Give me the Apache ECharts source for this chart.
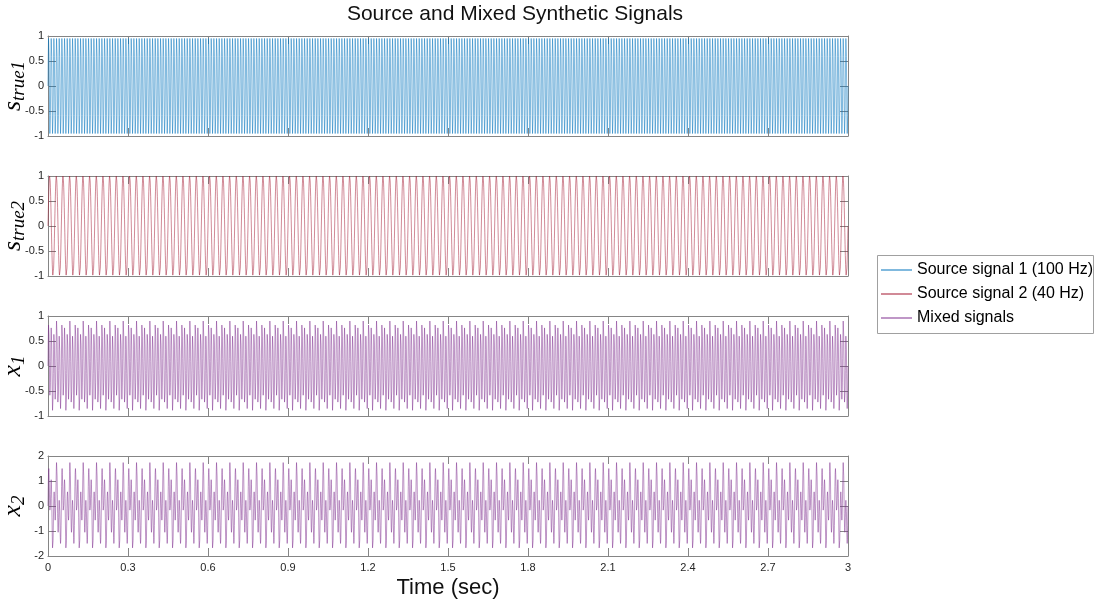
<!DOCTYPE html>
<html>
<head>
<meta charset="utf-8">
<script src="https://cdn.jsdelivr.net/npm/echarts@6/dist/echarts.min.js"></script>
<style>
  html, body { margin: 0; padding: 0; background: #fff; }
  #chart { width: 1094px; height: 602px; }
</style>
</head>
<body>
<div id="chart"></div>
<script>
// Sampling: 1 kHz over 3 seconds
const sampleRate = 1000;
const durationSec = 3;

// One period of each signal, sampled at 1 kHz
// Source 1, 100 Hz (10 samples per period)
const source1Period = [0, 0.5878, 0.9511, 0.9511, 0.5878, 0, -0.5878, -0.9511, -0.9511, -0.5878];
// Source 2, 40 Hz (25 samples per period)
const source2Period = [
  0, 0.2487, 0.4818, 0.6845, 0.8443, 0.9511, 0.9980, 0.9823, 0.9048, 0.7705,
  0.5878, 0.3681, 0.1253, -0.1253, -0.3681, -0.5878, -0.7705, -0.9048, -0.9823, -0.9980,
  -0.9511, -0.8443, -0.6845, -0.4818, -0.2487
];
// Mixed channel 1 (50 samples per common period)
const mixed1Period = [
  0, 0.4983, 0.8190, 0.8514, 0.5936, 0.1522, -0.2988, -0.5847, -0.5971, -0.3352,
  0.0940, 0.5174, 0.7619, 0.7219, 0.3996, -0.0940, -0.5818, -0.8867, -0.8991, -0.6182,
  -0.1522, 0.3234, 0.6324, 0.6648, 0.4187, 0, -0.4187, -0.6648, -0.6324, -0.3234,
  0.1522, 0.6182, 0.8991, 0.8867, 0.5818, 0.0940, -0.3996, -0.7219, -0.7619, -0.5174,
  -0.0940, 0.3352, 0.5971, 0.5847, 0.2988, -0.1522, -0.5936, -0.8514, -0.8190, -0.4983
];
// Mixed channel 2 (50 samples per common period)
const mixed2Period = [
  0, 0.7868, 1.3365, 1.4987, 1.2632, 0.7609, 0.2106, -0.1653, -0.2273, 0.0286,
  0.4702, 0.8823, 1.0513, 0.8509, 0.2933, -0.4702, -1.2042, -1.6749, -1.7369, -1.3862,
  -0.7609, -0.0876, 0.4035, 0.5657, 0.3888, 0, -0.3888, -0.5657, -0.4035, 0.0876,
  0.7609, 1.3862, 1.7369, 1.6749, 1.2042, 0.4702, -0.2933, -0.8509, -1.0513, -0.8823,
  -0.4702, 0.0286, 0.2273, 0.1653, -0.2106, -0.7609, -1.2632, -1.4987, -1.3365, -0.7868
];

const seriesNames = ['Source signal 1 (100 Hz)', 'Source signal 2 (40 Hz)', 'Mixed signals', 'Mixed signals'];
const panelLabels = [['s', 'true1'], ['s', 'true2'], ['x', '1'], ['x', '2']];
const timeTicks = [0, 0.3, 0.6, 0.9, 1.2, 1.5, 1.8, 2.1, 2.4, 2.7, 3];
const unitTicks = [-1, -0.5, 0, 0.5, 1];
const mixTicks = [-2, -1, 0, 1, 2];

// Repeat a sampled period along the time axis
function repeatPeriod(period) {
  const pts = [];
  const n = sampleRate * durationSec;
  for (let k = 0; k <= n; k++) pts.push([k / sampleRate, period[k % period.length]]);
  return pts;
}

const signals = [source1Period, source2Period, mixed1Period, mixed2Period].map(repeatPeriod);
const yTickSets = [unitTicks, unitTicks, unitTicks, mixTicks];
const colors = ['#0072BD', '#A2142F', '#7E2F8E', '#7E2F8E'];

const FONT = "'Liberation Sans', Arial, Helvetica, sans-serif";
const MATH = "'Liberation Serif', 'Times New Roman', serif";
const BOX = '#858585';
const TXT = '#262626';

const PLOT_LEFT = 48, PLOT_TOP = 36, PLOT_W = 800, PLOT_H = 100, PANEL_STEP = 140;

const grid = [], xAxis = [], yAxis = [], series = [], graphic = [];
for (let i = 0; i < 4; i++) {
  grid.push({ left: PLOT_LEFT, top: PLOT_TOP + PANEL_STEP * i, width: PLOT_W, height: PLOT_H, containLabel: false, outerBoundsMode: 'none' });
  const last = i === 3;
  const yt = yTickSets[i];
  // bottom x axis
  xAxis.push({
    type: 'value', gridIndex: i, position: 'bottom', min: 0, max: 3,
    axisLine: { show: true, onZero: false, lineStyle: { color: BOX, width: 1 } },
    axisTick: { show: true, inside: true, length: 8, customValues: timeTicks, lineStyle: { color: BOX } },
    axisLabel: {
      show: last, customValues: timeTicks, margin: 6, color: TXT, fontSize: 11, fontFamily: FONT,
      formatter: v => String(+v.toFixed(1))
    },
    splitLine: { show: false },
    name: last ? 'Time (sec)' : '', nameLocation: 'middle', nameGap: 21,
    nameTextStyle: { fontSize: 22, color: '#111', fontFamily: FONT }
  });
  // top x axis (box edge with ticks)
  xAxis.push({
    type: 'value', gridIndex: i, position: 'top', min: 0, max: 3,
    axisLine: { show: true, onZero: false, lineStyle: { color: BOX, width: 1 } },
    axisTick: { show: true, inside: true, length: 8, customValues: timeTicks, lineStyle: { color: BOX } },
    axisLabel: { show: false }, splitLine: { show: false }
  });
  // left y axis
  yAxis.push({
    type: 'value', gridIndex: i, position: 'left', min: yt[0], max: yt[yt.length - 1],
    axisLine: { show: true, onZero: false, lineStyle: { color: BOX, width: 1 } },
    axisTick: { show: true, inside: true, length: 8, customValues: yt, lineStyle: { color: BOX } },
    axisLabel: { customValues: yt, margin: 4, color: TXT, fontSize: 11, fontFamily: FONT },
    splitLine: { show: false }
  });
  // right y axis (box edge with ticks)
  yAxis.push({
    type: 'value', gridIndex: i, position: 'right', min: yt[0], max: yt[yt.length - 1],
    axisLine: { show: true, onZero: false, lineStyle: { color: BOX, width: 1 } },
    axisTick: { show: true, inside: true, length: 8, customValues: yt, lineStyle: { color: BOX } },
    axisLabel: { show: false }, splitLine: { show: false }
  });
  series.push({
    type: 'line', name: seriesNames[i], xAxisIndex: 2 * i, yAxisIndex: 2 * i,
    data: signals[i], showSymbol: false, symbol: 'none',
    lineStyle: { width: 0.5, color: colors[i] }, itemStyle: { color: colors[i] },
    emphasis: { disabled: true }, animation: false
  });
  // rotated math-style panel label with subscript
  graphic.push({
    type: 'text', silent: true,
    x: 13, y: PLOT_TOP + PANEL_STEP * i + PLOT_H / 2,
    rotation: Math.PI / 2,
    style: {
      text: '{m|' + panelLabels[i][0] + '}{b|' + panelLabels[i][1] + '}',
      align: 'center', verticalAlign: 'middle',
      rich: {
        m: { fontFamily: MATH, fontStyle: 'italic', fontSize: 26, fill: '#000', lineHeight: 30, verticalAlign: 'middle' },
        b: { fontFamily: MATH, fontStyle: 'italic', fontSize: 19, fill: '#000', lineHeight: 14, verticalAlign: 'bottom' }
      }
    }
  });
}

graphic.push({
  type: 'rect', silent: true,
  shape: { x: 877.5, y: 255.5, width: 216, height: 78 },
  style: { fill: 'none', stroke: '#a0a0a0', lineWidth: 1 }
});

const chart = echarts.init(document.getElementById('chart'), null, { renderer: 'canvas' });
chart.setOption({
  backgroundColor: '#fff',
  animation: false,
  title: {
    text: 'Source and Mixed Synthetic Signals', left: 510, top: -1, textAlign: 'center',
    textStyle: { fontSize: 21, fontWeight: 'normal', color: '#111', fontFamily: FONT }
  },
  legend: {
    orient: 'vertical', left: 881, top: 262, padding: 0, itemGap: 8,
    itemWidth: 31, itemHeight: 1, icon: 'rect',
    data: seriesNames.slice(0, 3),
    textStyle: { fontSize: 16, color: '#000', fontFamily: FONT, lineHeight: 16 }
  },
  graphic, grid, xAxis, yAxis, series
});
</script>
</body>
</html>
